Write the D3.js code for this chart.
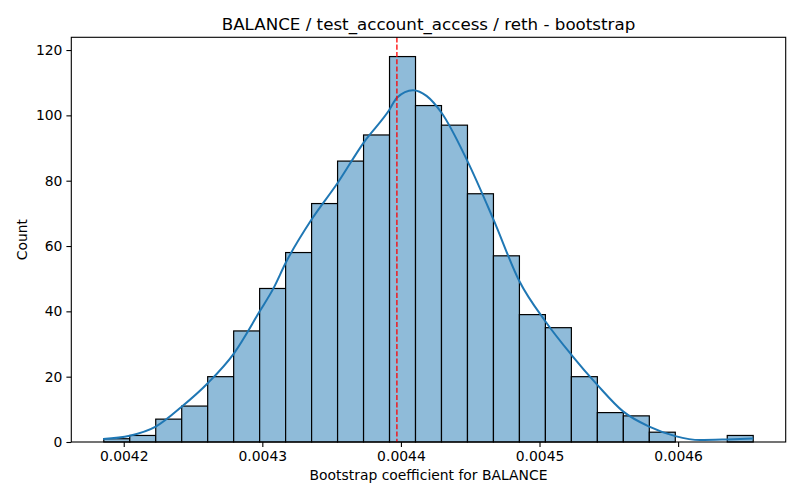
<!DOCTYPE html>
<html>
<head>
<meta charset="utf-8">
<script src="https://cdn.jsdelivr.net/npm/d3@7"></script>
<style>
  body { margin: 0; background: #fff; }
  svg text { font-family: "DejaVu Sans", sans-serif; fill: #000; }
</style>
</head>
<body>
<svg class="hist-chart" width="800" height="500"></svg>
<script>
// histogram: 25 equal bins between the data min and max
const binLo = 0.0041856;
const binHi = 0.0046542;
const counts = [1, 2, 7, 11, 20, 34, 47, 58, 73, 86, 94, 118, 103, 97, 76, 57, 39, 35, 20, 9, 8, 3, 0, 0, 2];

// kde curve (scaled to counts)
const kdeX = [0.0041851, 0.0042043, 0.0042231, 0.0042418, 0.0042606, 0.0042793, 0.0042981, 0.0043081,
              0.0043168, 0.0043355, 0.0043543, 0.0043730, 0.0043918, 0.0043971, 0.0044087, 0.0044187,
              0.0044293, 0.0044480, 0.0044668, 0.0044855, 0.0045043, 0.0045230, 0.0045417, 0.0045605,
              0.0045792, 0.0045980, 0.0046158, 0.0046355, 0.0046542];
const kdeY = [0.9, 1.9, 4.7, 10.8, 18.0, 27.0, 40.0, 47.1,
              54.8, 68.1, 79.3, 91.6, 101.8, 105.4, 107.7, 105.9,
              100.8, 86.0, 68.1, 49.2, 36.9, 26.7, 17.5, 9.3,
              4.7, 1.8, 0.6, 0.8, 1.1];

const refValue = 0.0043971;
const xTicks = [0.0042, 0.0043, 0.0044, 0.0045, 0.0046];
const yTicks = [0, 20, 40, 60, 80, 100, 120];

const title = "BALANCE / test_account_access / reth - bootstrap";
const xLabel = "Bootstrap coefficient for BALANCE";
const yLabel = "Count";

const svg = d3.select("svg.hist-chart");
const margin = {top: 37.3, right: 14.3, bottom: 58, left: 71.3};
const width = +svg.attr("width") - margin.left - margin.right;
const height = +svg.attr("height") - margin.top - margin.bottom;
const g = svg.append("g").attr("transform", `translate(${margin.left}, ${margin.top})`);

const pad = (binHi - binLo) * 0.05;
const x = d3.scaleLinear().domain([binLo - pad, binHi + pad]).range([0, width]);
const y = d3.scaleLinear().domain([0, d3.max(counts) * 1.05]).range([height, 0]);

const binW = (binHi - binLo) / counts.length;
const bins = counts.map((c, i) => ({x0: binLo + i * binW, x1: binLo + (i + 1) * binW, count: c}));

g.selectAll("rect.bar")
    .data(bins.filter(d => d.count > 0))
    .enter().append("rect")
    .attr("class", "bar")
    .attr("x", d => x(d.x0))
    .attr("width", d => x(d.x1) - x(d.x0))
    .attr("y", d => y(d.count))
    .attr("height", d => y(0) - y(d.count))
    .attr("fill", "#8fbbd9")
    .attr("stroke", "#000")
    .attr("stroke-width", 1.2);

const line = d3.line()
    .curve(d3.curveMonotoneX)
    .x((d, i) => x(kdeX[i]))
    .y(d => y(d));

g.append("path")
    .datum(kdeY)
    .attr("d", line)
    .attr("fill", "none")
    .attr("stroke", "#1f77b4")
    .attr("stroke-width", 2);

g.append("line")
    .attr("x1", x(refValue)).attr("x2", x(refValue))
    .attr("y1", 0).attr("y2", height)
    .attr("stroke", "red")
    .attr("stroke-width", 1.3)
    .attr("stroke-dasharray", "5.1,2.2");

// axes
const xAxis = g.append("g")
    .attr("transform", `translate(0, ${height})`)
    .call(d3.axisBottom(x).tickValues(xTicks).tickFormat(d3.format(".4f")).tickSize(4.9).tickPadding(4))
xAxis.select(".domain").remove();

const yAxis = g.append("g")
    .call(d3.axisLeft(y).tickValues(yTicks).tickFormat(d3.format("d")).tickSize(4.9).tickPadding(4));
yAxis.select(".domain").remove();

g.selectAll(".tick line").attr("stroke", "#000").attr("stroke-width", 1.1);
g.selectAll(".tick text").attr("font-size", "13.9px").attr("font-family", "DejaVu Sans");

g.append("rect")
    .attr("width", width).attr("height", height)
    .attr("fill", "none")
    .attr("stroke", "#000")
    .attr("stroke-width", 1.1);

svg.append("text")
    .attr("x", margin.left + width / 2)
    .attr("y", margin.top - 7.5)
    .attr("text-anchor", "middle")
    .attr("font-size", "16.7px")
    .text(title);

svg.append("text")
    .attr("x", margin.left + width / 2)
    .attr("y", 480)
    .attr("text-anchor", "middle")
    .attr("font-size", "13.9px")
    .text(xLabel);

svg.append("text")
    .attr("transform", `translate(27, ${margin.top + height / 2}) rotate(-90)`)
    .attr("text-anchor", "middle")
    .attr("font-size", "13.9px")
    .text(yLabel);
</script>
</body>
</html>
